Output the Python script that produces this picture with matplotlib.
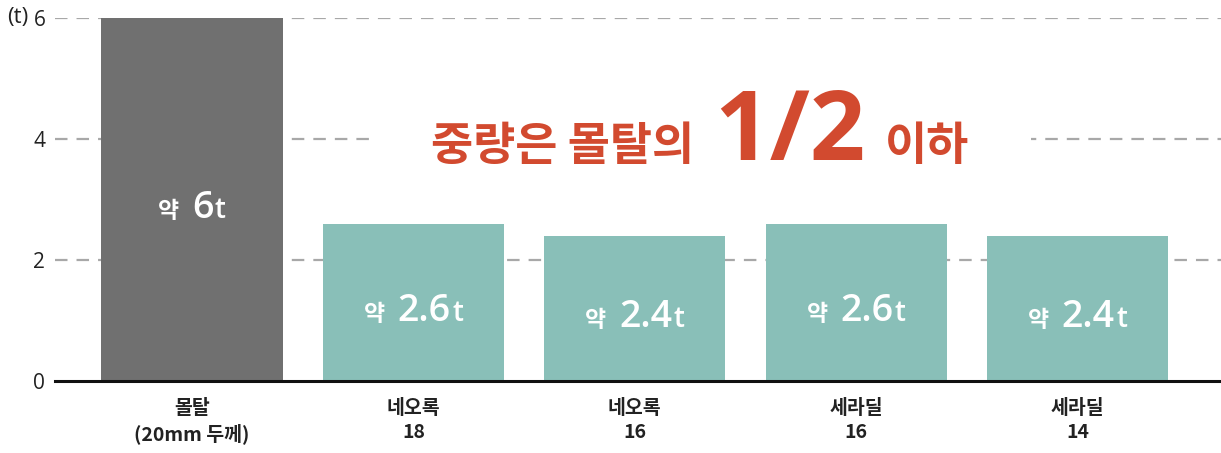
import matplotlib
matplotlib.use("Agg")
import matplotlib.pyplot as plt
from matplotlib.offsetbox import TextArea, HPacker, AnnotationBbox

plt.rcParams["font.family"] = ["Noto Sans CJK KR", "DejaVu Sans"]
plt.rcParams["lines.scale_dashes"] = False

categories = ["몰탈\n(20mm 두께)", "네오록\n18", "네오록\n16", "세라딜\n16", "세라딜\n14"]
weights = [6, 2.6, 2.4, 2.6, 2.4]
value_labels = ["6", "2.6", "2.4", "2.6", "2.4"]
bar_colors = ["#707070", "#89bfb8", "#89bfb8", "#89bfb8", "#89bfb8"]
yticks = [0, 2, 4, 6]

red = "#d24a2f"
latin = ["Open Sans", "Noto Sans CJK KR"]

fig = plt.figure(figsize=(12.21, 4.53), dpi=100)
ax = fig.add_axes([55 / 1221, 1 - 381 / 453, 1 - 55 / 1221, (381 - 18) / 453])

x = list(range(len(categories)))
ax.bar(x, weights, width=0.818, color=bar_colors, zorder=3)

# dashed grid lines
for t in yticks[1:]:
    ax.axhline(t, color="#a8a8a8", lw=1.6, dashes=(9, 6.5), zorder=1)

ax.set_xlim(-0.619, 4.648)
ax.set_ylim(0, 6)
ax.set_yticks(yticks)
ax.set_yticklabels([str(t) for t in yticks], fontsize=15, color="#222222", family=latin)
ax.set_xticks(x)
ax.set_xticklabels(categories, fontsize=14, fontweight="bold", color="#222222", linespacing=1.3)
ax.tick_params(axis="both", length=0)
ax.tick_params(axis="y", pad=7)
ax.tick_params(axis="x", pad=13)
for s in ["left", "right", "top"]:
    ax.spines[s].set_visible(False)
ax.spines["bottom"].set_linewidth(2.2)
ax.spines["bottom"].set_color("#111111")
ax.spines["bottom"].set_zorder(4)

fig.text(7 / 1221, 1 - 17 / 453, "(t)", fontsize=16, color="#222222", va="center", ha="left",
         family=latin)

# labels inside bars
for xi, v, lab in zip(x, weights, value_labels):
    pre = TextArea("약", textprops=dict(fontsize=16.5, fontweight="bold", color="white"))
    num = TextArea(lab, textprops=dict(fontsize=27, fontweight="semibold", color="white", family=latin))
    unit = TextArea("t", textprops=dict(fontsize=20, fontweight="semibold", color="white", family=latin))
    inner = HPacker(children=[num, unit], sep=1, align="baseline")
    box = HPacker(children=[pre, inner], sep=9, align="baseline")
    ab = AnnotationBbox(box, (xi, v / 2), xybox=(0, -6), boxcoords="offset points",
                        frameon=False, box_alignment=(0.5, 0.5), zorder=5)
    ax.add_artist(ab)

# headline with white background
t1 = TextArea("중량은 몰탈의", textprops=dict(fontsize=33, fontweight="bold", color=red))
t2 = TextArea("1/2", textprops=dict(fontsize=70, fontweight="bold", color=red, family=latin))
t3 = TextArea("이하", textprops=dict(fontsize=33, fontweight="bold", color=red))
head = HPacker(children=[t1, t2, t3], sep=14, align="baseline")
hb = AnnotationBbox(head, ((700 - 55) / 1166, (381 - 134) / 363), xycoords="axes fraction",
                    frameon=True, box_alignment=(0.5, 0.5), pad=4.5, fontsize=10,
                    bboxprops=dict(fc="white", ec="none"), zorder=2)
ax.add_artist(hb)

fig.savefig("out.png", dpi=100)
